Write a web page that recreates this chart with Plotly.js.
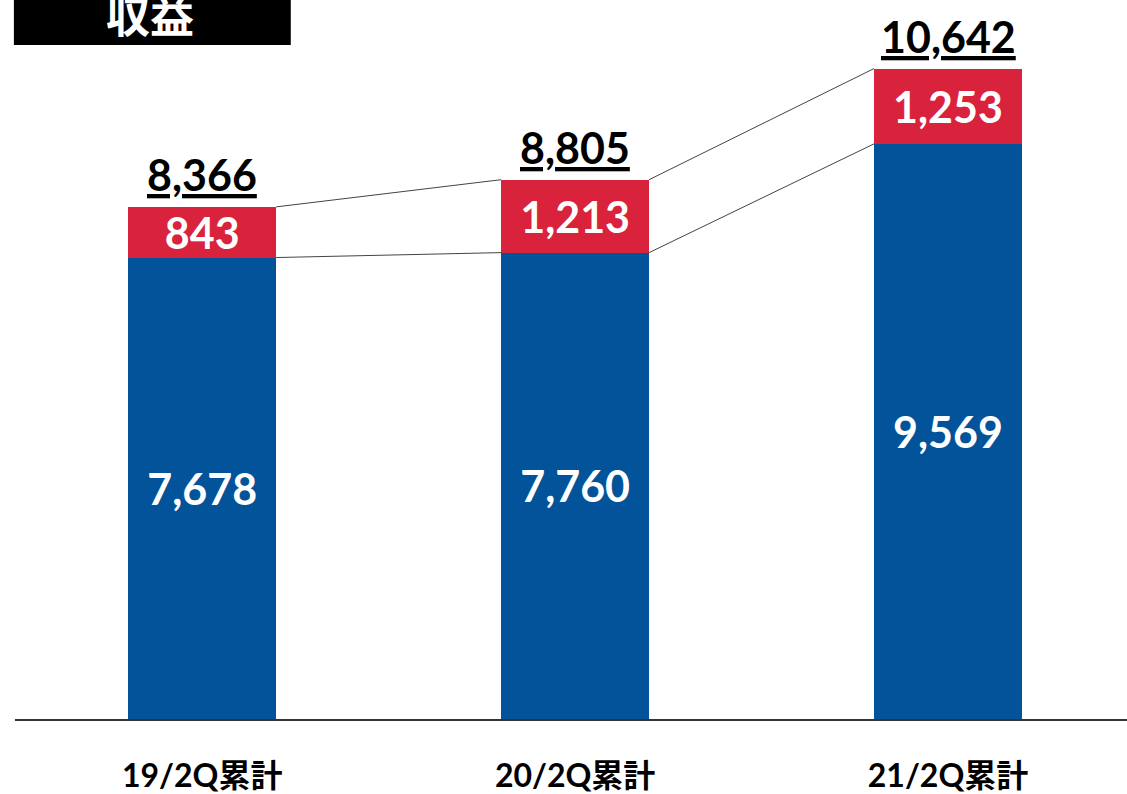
<!DOCTYPE html>
<html>
<head>
<meta charset="utf-8">
<script src="https://cdn.plot.ly/plotly-3.0.1.min.js"></script>
<style>
  body { margin: 0; background: #fff; }
  #chart { width: 1127px; height: 794px; }
</style>
</head>
<body>
<div id="chart"></div>
<script>
const periods = ['19/2Q累計', '20/2Q累計', '21/2Q累計']
const baseValues = [7678, 7760, 9569]
const extraValues = [843, 1213, 1253]
const totalLabels = ['8,366', '8,805', '10,642']

const blue = '#025399'
const red = '#D9223B'
const font = 'Lato, "Noto Sans CJK JP", sans-serif'
const barWidth = 0.397
const xs = periods.map((p, i) => i)
const fmt = v => v.toLocaleString('en-US')
const tops = baseValues.map((v, i) => v + extraValues[i])

const data = [
  {
    type: 'bar', x: xs, y: baseValues, width: barWidth,
    marker: {color: blue, line: {width: 0}},
    text: baseValues.map(fmt), textposition: 'inside', insidetextanchor: 'middle',
    textfont: {family: font, size: 43, color: '#fff', weight: 700},
    constraintext: 'none', hoverinfo: 'none'
  },
  {
    type: 'bar', x: xs, y: extraValues, width: barWidth,
    marker: {color: red, line: {width: 0}},
    text: extraValues.map(fmt), textposition: 'inside', insidetextanchor: 'middle',
    textfont: {family: font, size: 43, color: '#fff', weight: 700},
    constraintext: 'none', hoverinfo: 'none'
  }
]

// connector lines between neighbouring bars
for (let i = 0; i < xs.length - 1; i++) {
  const x0 = xs[i] + barWidth / 2
  const x1 = xs[i + 1] - barWidth / 2
  data.push({type: 'scatter', mode: 'lines', x: [x0, x1], y: [tops[i], tops[i + 1]],
    line: {color: '#444', width: 1}, hoverinfo: 'none'})
  data.push({type: 'scatter', mode: 'lines', x: [x0, x1], y: [baseValues[i], baseValues[i + 1]],
    line: {color: '#444', width: 1}, hoverinfo: 'none'})
}

const annotations = totalLabels.map((t, i) => ({
  x: xs[i], y: tops[i], xref: 'x', yref: 'y',
  text: '<u>' + t + '</u>', showarrow: false,
  xanchor: 'center', yanchor: 'bottom', yshift: 5,
  font: {family: font, size: 43, color: '#000', weight: 700}
}))
annotations.push({
  x: 0.121, y: 0.978, xref: 'paper', yref: 'paper',
  text: '収益', showarrow: false, xanchor: 'center', yanchor: 'middle',
  font: {family: font, size: 44, color: '#fff', weight: 700}
})

const layout = {
  width: 1127, height: 794,
  margin: {l: 15, r: 0, t: 0, b: 75},
  paper_bgcolor: '#fff', plot_bgcolor: '#fff',
  barmode: 'stack', bargap: 0,
  showlegend: false,
  xaxis: {
    range: [-0.502, 2.48], tickvals: xs, ticktext: periods,
    showline: true, linecolor: '#333', linewidth: 2,
    showgrid: false, zeroline: false, ticks: '',
    ticklabelstandoff: 28,
    tickfont: {family: font, size: 32, color: '#000', weight: 700}
  },
  yaxis: {
    range: [0, 11963], visible: false, showgrid: false, zeroline: false
  },
  shapes: [{
    type: 'rect', xref: 'paper', yref: 'paper',
    x0: -0.001, x1: 0.248, y0: 0.9374, y1: 1.1,
    fillcolor: '#000', line: {width: 0}, layer: 'above'
  }],
  annotations: annotations
}

Plotly.newPlot('chart', data, layout, {displayModeBar: false, staticPlot: true})
</script>
</body>
</html>
